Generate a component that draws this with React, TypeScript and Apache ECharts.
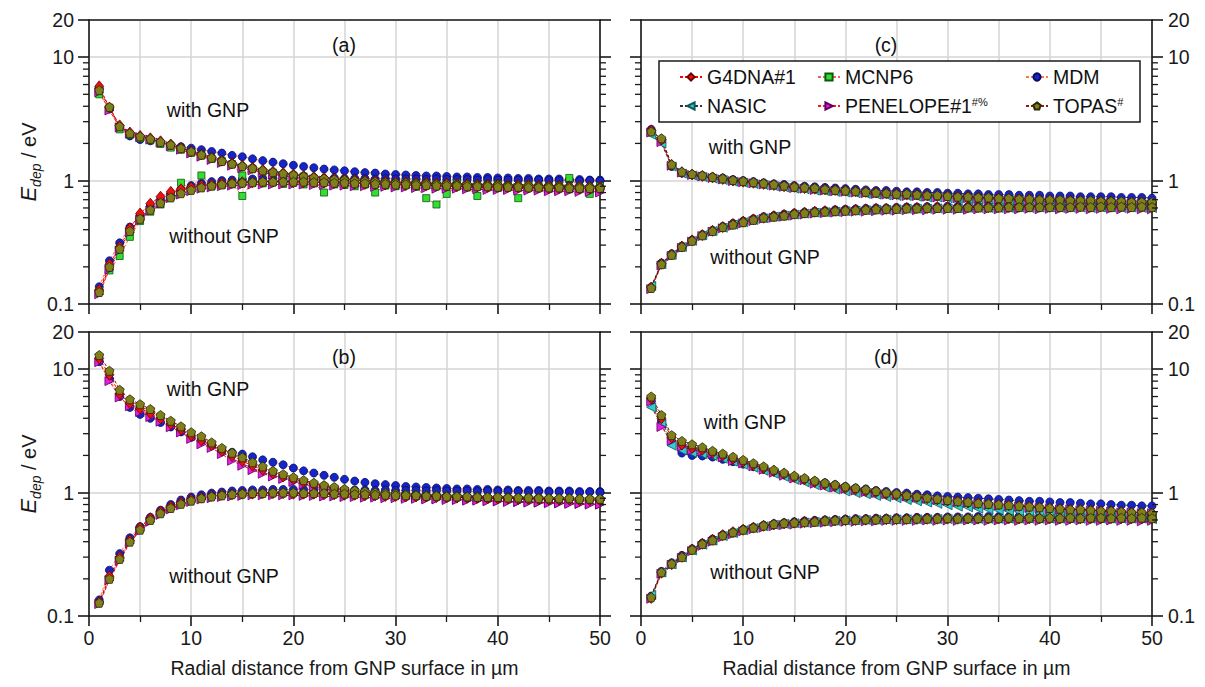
import React, { useEffect, useRef } from 'react';
import * as echarts from 'echarts';

// ---------------- data ----------------
const X_DIST = [1, 2, 3, 4, 5, 6, 7, 8, 9, 10, 11, 12, 13, 14, 15, 16, 17, 18, 19, 20, 21, 22, 23, 24, 25, 26, 27, 28, 29, 30, 31, 32, 33, 34, 35, 36, 37, 38, 39, 40, 41, 42, 43, 44, 45, 46, 47, 48, 49, 50];

// Panel (a)
const A_WITH_TOPAS = [5.4, 3.95, 2.75, 2.42, 2.28, 2.18, 2.06, 1.95, 1.83, 1.72, 1.62, 1.53, 1.44, 1.37, 1.31, 1.26, 1.21, 1.17, 1.14, 1.11, 1.08, 1.06, 1.04, 1.02, 1.01, 1.0, 0.99, 0.98, 0.97, 0.96, 0.96, 0.95, 0.95, 0.94, 0.94, 0.93, 0.93, 0.92, 0.92, 0.92, 0.91, 0.91, 0.91, 0.9, 0.9, 0.9, 0.89, 0.89, 0.89, 0.88];
const A_WITH_MDM = [5.6, 3.8, 2.7, 2.3, 2.15, 2.1, 2.03, 1.95, 1.88, 1.83, 1.78, 1.72, 1.67, 1.6, 1.56, 1.5, 1.45, 1.41, 1.37, 1.33, 1.3, 1.27, 1.24, 1.22, 1.2, 1.18, 1.16, 1.15, 1.13, 1.12, 1.11, 1.1, 1.09, 1.09, 1.08, 1.07, 1.07, 1.06, 1.06, 1.05, 1.05, 1.04, 1.04, 1.03, 1.03, 1.03, 1.02, 1.02, 1.01, 1.01];
const A_WITH_PENELOPE = [5.2, 3.7, 2.7, 2.4, 2.25, 2.15, 2.03, 1.9, 1.78, 1.66, 1.56, 1.47, 1.39, 1.32, 1.26, 1.21, 1.16, 1.12, 1.09, 1.06, 1.04, 1.02, 1.0, 0.98, 0.97, 0.96, 0.95, 0.94, 0.93, 0.92, 0.92, 0.91, 0.91, 0.9, 0.9, 0.89, 0.89, 0.88, 0.88, 0.87, 0.87, 0.87, 0.86, 0.86, 0.86, 0.85, 0.85, 0.85, 0.84, 0.84];
const A_WITH_G4DNA = [5.8, 3.9, 2.8, 2.45, 2.3, 2.2, 2.08, 1.96, 1.84, 1.73, 1.63, 1.54, 1.45, 1.38, 1.32, 1.27, 1.22, 1.18, 1.15, 1.12, 1.09, 1.07, 1.05, 1.03, 1.02, 1.01, 1.0, 0.99, 0.98, 0.97, 0.97, 0.96, 0.96, 0.95, 0.95, 0.94, 0.94, 0.93, 0.93, 0.93, 0.92, 0.92, 0.92, 0.91, 0.91, 0.91, 0.9, 0.9, 0.9, 0.89];
const A_WITH_MCNP6 = [5.0, 3.9, 2.6, 2.35, 2.2, 2.12, 1.98, 1.85, 1.78, 1.68, 1.6, 1.5, 1.44, 1.36, 1.1, 1.25, 1.18, 1.16, 1.1, 1.1, 1.08, 1.04, 1.0, 0.95, 1.0, 0.97, 0.97, 0.95, 0.95, 0.93, 0.96, 0.94, 0.92, 0.93, 0.92, 0.95, 0.91, 0.9, 0.92, 0.93, 0.9, 0.88, 0.92, 0.9, 0.89, 0.91, 1.05, 0.88, 0.86, 0.9];
const A_WITHOUT_TOPAS = [0.125, 0.2, 0.28, 0.39, 0.49, 0.58, 0.66, 0.73, 0.79, 0.84, 0.88, 0.91, 0.93, 0.95, 0.96, 0.97, 0.98, 0.98, 0.98, 0.98, 0.98, 0.97, 0.97, 0.96, 0.96, 0.95, 0.95, 0.94, 0.94, 0.93, 0.93, 0.92, 0.92, 0.91, 0.91, 0.91, 0.9, 0.9, 0.9, 0.89, 0.89, 0.89, 0.88, 0.88, 0.88, 0.88, 0.87, 0.87, 0.87, 0.87];
const A_WITHOUT_MDM = [0.138, 0.224, 0.313, 0.42, 0.52, 0.62, 0.7, 0.78, 0.85, 0.91, 0.95, 0.98, 1.0, 1.01, 1.02, 1.03, 1.04, 1.04, 1.04, 1.05, 1.05, 1.05, 1.04, 1.05, 1.04, 1.04, 1.04, 1.03, 1.04, 1.03, 1.03, 1.03, 1.02, 1.03, 1.02, 1.02, 1.02, 1.01, 1.02, 1.01, 1.01, 1.01, 1.0, 1.01, 1.0, 1.0, 1.0, 0.99, 1.0, 0.99];
const A_WITHOUT_PENELOPE = [0.12, 0.19, 0.27, 0.38, 0.48, 0.57, 0.65, 0.72, 0.77, 0.82, 0.86, 0.88, 0.9, 0.91, 0.92, 0.93, 0.93, 0.93, 0.93, 0.93, 0.93, 0.92, 0.92, 0.91, 0.91, 0.9, 0.9, 0.89, 0.89, 0.88, 0.88, 0.87, 0.87, 0.86, 0.86, 0.86, 0.85, 0.85, 0.84, 0.84, 0.84, 0.83, 0.83, 0.83, 0.82, 0.82, 0.82, 0.81, 0.81, 0.8];
const A_WITHOUT_G4DNA = [0.13, 0.21, 0.29, 0.41, 0.54, 0.65, 0.74, 0.81, 0.85, 0.88, 0.91, 0.93, 0.95, 0.96, 0.97, 0.97, 0.98, 0.98, 0.98, 0.97, 0.97, 0.97, 0.96, 0.96, 0.95, 0.95, 0.94, 0.94, 0.93, 0.93, 0.92, 0.92, 0.92, 0.91, 0.91, 0.9, 0.9, 0.9, 0.89, 0.89, 0.89, 0.88, 0.88, 0.88, 0.87, 0.87, 0.87, 0.86, 0.86, 0.86];
const A_WITHOUT_MCNP6 = [0.128, 0.187, 0.245, 0.35, 0.47, 0.56, 0.64, 0.74, 0.96, 0.86, 1.1, 0.9, 0.92, 0.94, 0.75, 0.96, 0.95, 0.97, 0.94, 0.96, 0.93, 0.95, 0.8, 0.93, 0.92, 0.9, 0.93, 0.8, 0.91, 0.9, 0.92, 0.89, 0.72, 0.64, 0.78, 0.9, 0.88, 0.75, 0.89, 0.87, 0.9, 0.72, 0.88, 0.87, 0.86, 0.88, 0.85, 0.87, 0.78, 0.86];

// Panel (b)
const B_WITH_TOPAS = [13.0, 9.7, 6.8, 5.7, 5.2, 4.75, 4.25, 3.82, 3.44, 3.08, 2.86, 2.55, 2.3, 2.1, 1.93, 1.76, 1.63, 1.5, 1.41, 1.33, 1.26, 1.2, 1.15, 1.11, 1.07, 1.04, 1.02, 1.0, 0.99, 0.98, 0.97, 0.96, 0.95, 0.95, 0.94, 0.94, 0.93, 0.93, 0.92, 0.92, 0.92, 0.91, 0.91, 0.91, 0.9, 0.9, 0.9, 0.89, 0.89, 0.89];
const B_WITH_MDM = [11.5, 8.3, 6.0, 4.9, 4.3, 4.0, 3.7, 3.4, 3.1, 2.8, 2.6, 2.4, 2.2, 2.12, 2.05, 1.95, 1.84, 1.76, 1.68, 1.58, 1.5, 1.44, 1.38, 1.33, 1.28, 1.24, 1.21, 1.18, 1.16, 1.14, 1.12, 1.11, 1.1, 1.09, 1.08, 1.07, 1.07, 1.06, 1.06, 1.05, 1.05, 1.04, 1.04, 1.04, 1.03, 1.03, 1.03, 1.02, 1.02, 1.02];
const B_WITH_PENELOPE = [11.4, 8.0, 5.9, 5.0, 4.5, 4.1, 3.75, 3.38, 3.07, 2.72, 2.46, 2.3, 2.05, 1.81, 1.65, 1.52, 1.42, 1.35, 1.29, 1.22, 1.16, 1.11, 1.07, 1.03, 1.0, 0.98, 0.96, 0.95, 0.94, 0.93, 0.92, 0.91, 0.9, 0.89, 0.89, 0.88, 0.87, 0.87, 0.86, 0.85, 0.85, 0.84, 0.84, 0.83, 0.83, 0.82, 0.82, 0.81, 0.81, 0.8];
const B_WITH_G4DNA = [12.2, 9.0, 6.3, 5.3, 4.8, 4.4, 4.0, 3.6, 3.25, 2.9, 2.65, 2.42, 2.18, 1.98, 1.8, 1.65, 1.53, 1.43, 1.35, 1.28, 1.22, 1.17, 1.12, 1.08, 1.05, 1.02, 1.0, 0.98, 0.97, 0.96, 0.95, 0.94, 0.93, 0.93, 0.92, 0.92, 0.91, 0.91, 0.9, 0.9, 0.9, 0.89, 0.89, 0.89, 0.88, 0.88, 0.88, 0.87, 0.87, 0.87];
const B_WITHOUT_TOPAS = [0.128, 0.2, 0.29, 0.4, 0.5, 0.6, 0.68, 0.75, 0.81, 0.86, 0.9, 0.93, 0.95, 0.97, 0.98, 0.99, 0.99, 1.0, 1.0, 1.0, 0.99, 0.99, 0.99, 0.98, 0.98, 0.97, 0.97, 0.96, 0.96, 0.95, 0.95, 0.95, 0.94, 0.94, 0.93, 0.93, 0.93, 0.92, 0.92, 0.92, 0.91, 0.91, 0.91, 0.9, 0.9, 0.9, 0.9, 0.89, 0.89, 0.89];
const B_WITHOUT_MDM = [0.135, 0.235, 0.32, 0.43, 0.53, 0.63, 0.72, 0.8, 0.87, 0.92, 0.96, 0.99, 1.01, 1.03, 1.04, 1.05, 1.05, 1.06, 1.06, 1.06, 1.06, 1.06, 1.05, 1.06, 1.05, 1.05, 1.05, 1.04, 1.05, 1.04, 1.04, 1.04, 1.03, 1.04, 1.03, 1.03, 1.03, 1.02, 1.03, 1.02, 1.02, 1.02, 1.01, 1.02, 1.01, 1.01, 1.01, 1.0, 1.01, 1.0];
const B_WITHOUT_PENELOPE = [0.125, 0.195, 0.28, 0.39, 0.49, 0.58, 0.66, 0.73, 0.79, 0.84, 0.88, 0.9, 0.92, 0.93, 0.94, 0.95, 0.95, 0.95, 0.95, 0.95, 0.94, 0.94, 0.93, 0.93, 0.92, 0.92, 0.91, 0.91, 0.9, 0.9, 0.89, 0.89, 0.88, 0.88, 0.87, 0.87, 0.86, 0.86, 0.85, 0.85, 0.84, 0.84, 0.83, 0.83, 0.82, 0.82, 0.81, 0.81, 0.8, 0.8];
const B_WITHOUT_G4DNA = [0.13, 0.21, 0.3, 0.41, 0.52, 0.62, 0.7, 0.77, 0.83, 0.88, 0.91, 0.94, 0.96, 0.97, 0.98, 0.98, 0.99, 0.99, 0.99, 0.98, 0.98, 0.98, 0.97, 0.97, 0.96, 0.96, 0.95, 0.95, 0.94, 0.94, 0.93, 0.93, 0.93, 0.92, 0.92, 0.91, 0.91, 0.91, 0.9, 0.9, 0.9, 0.89, 0.89, 0.89, 0.88, 0.88, 0.88, 0.87, 0.87, 0.87];

// Panel (c)
const C_WITH_TOPAS = [2.5, 2.2, 1.35, 1.18, 1.13, 1.1, 1.07, 1.04, 1.01, 0.99, 0.97, 0.95, 0.93, 0.91, 0.89, 0.88, 0.87, 0.85, 0.84, 0.83, 0.82, 0.81, 0.8, 0.79, 0.78, 0.78, 0.77, 0.76, 0.76, 0.75, 0.74, 0.74, 0.73, 0.73, 0.72, 0.72, 0.71, 0.71, 0.7, 0.7, 0.7, 0.69, 0.69, 0.69, 0.68, 0.68, 0.68, 0.67, 0.67, 0.67];
const C_WITH_MDM = [2.6, 2.1, 1.3, 1.15, 1.12, 1.1, 1.07, 1.05, 1.02, 1.0, 0.98, 0.96, 0.94, 0.93, 0.91, 0.9, 0.89, 0.88, 0.87, 0.86, 0.85, 0.84, 0.83, 0.83, 0.82, 0.81, 0.81, 0.8, 0.8, 0.79, 0.79, 0.78, 0.78, 0.77, 0.77, 0.77, 0.76, 0.76, 0.76, 0.75, 0.75, 0.75, 0.74, 0.74, 0.74, 0.74, 0.73, 0.73, 0.73, 0.72];
const C_WITH_PENELOPE = [2.45, 2.05, 1.32, 1.16, 1.11, 1.08, 1.05, 1.02, 0.99, 0.97, 0.95, 0.93, 0.91, 0.89, 0.87, 0.86, 0.84, 0.83, 0.82, 0.81, 0.8, 0.79, 0.78, 0.77, 0.76, 0.75, 0.75, 0.74, 0.73, 0.73, 0.72, 0.72, 0.71, 0.71, 0.7, 0.7, 0.69, 0.69, 0.68, 0.68, 0.68, 0.67, 0.67, 0.66, 0.66, 0.66, 0.65, 0.65, 0.65, 0.64];
const C_WITH_G4DNA = [2.55, 2.15, 1.34, 1.17, 1.12, 1.09, 1.06, 1.03, 1.0, 0.98, 0.96, 0.94, 0.92, 0.9, 0.89, 0.87, 0.86, 0.85, 0.84, 0.83, 0.82, 0.81, 0.8, 0.79, 0.78, 0.77, 0.77, 0.76, 0.75, 0.75, 0.74, 0.74, 0.73, 0.72, 0.72, 0.71, 0.71, 0.71, 0.7, 0.7, 0.69, 0.69, 0.69, 0.68, 0.68, 0.68, 0.67, 0.67, 0.67, 0.66];
const C_WITH_NASIC = [2.35, 2.0, 1.3, 1.14, 1.1, 1.07, 1.04, 1.01, 0.98, 0.96, 0.94, 0.92, 0.9, 0.88, 0.86, 0.85, 0.83, 0.82, 0.81, 0.8, 0.79, 0.78, 0.77, 0.76, 0.75, 0.75, 0.74, 0.73, 0.73, 0.72, 0.71, 0.71, 0.7, 0.7, 0.69, 0.69, 0.68, 0.68, 0.67, 0.67, 0.67, 0.66, 0.66, 0.65, 0.65, 0.65, 0.64, 0.64, 0.64, 0.63];
const C_WITHOUT_TOPAS = [0.135, 0.21, 0.25, 0.29, 0.325, 0.36, 0.39, 0.42, 0.44, 0.46, 0.48, 0.5, 0.51, 0.52, 0.535, 0.545, 0.555, 0.56, 0.565, 0.57, 0.575, 0.58, 0.585, 0.59, 0.59, 0.595, 0.595, 0.6, 0.6, 0.6, 0.6, 0.605, 0.605, 0.605, 0.605, 0.61, 0.61, 0.61, 0.61, 0.61, 0.61, 0.61, 0.615, 0.61, 0.615, 0.61, 0.615, 0.61, 0.615, 0.61];
const C_WITHOUT_MDM = [0.137, 0.215, 0.255, 0.295, 0.33, 0.365, 0.395, 0.425, 0.45, 0.47, 0.49, 0.51, 0.52, 0.535, 0.545, 0.555, 0.565, 0.57, 0.58, 0.585, 0.59, 0.595, 0.6, 0.6, 0.605, 0.61, 0.61, 0.615, 0.615, 0.62, 0.62, 0.62, 0.625, 0.625, 0.625, 0.63, 0.63, 0.63, 0.63, 0.63, 0.635, 0.63, 0.635, 0.635, 0.63, 0.635, 0.635, 0.635, 0.64, 0.635];
const C_WITHOUT_PENELOPE = [0.132, 0.205, 0.245, 0.285, 0.32, 0.355, 0.385, 0.41, 0.43, 0.45, 0.47, 0.49, 0.5, 0.51, 0.52, 0.53, 0.54, 0.545, 0.55, 0.555, 0.56, 0.56, 0.565, 0.57, 0.57, 0.575, 0.575, 0.575, 0.58, 0.58, 0.58, 0.58, 0.585, 0.585, 0.585, 0.585, 0.585, 0.59, 0.585, 0.59, 0.585, 0.59, 0.59, 0.585, 0.59, 0.59, 0.585, 0.59, 0.585, 0.585];
const C_WITHOUT_G4DNA = [0.136, 0.212, 0.252, 0.292, 0.328, 0.362, 0.392, 0.42, 0.445, 0.465, 0.485, 0.5, 0.515, 0.525, 0.54, 0.55, 0.56, 0.565, 0.57, 0.575, 0.58, 0.585, 0.59, 0.59, 0.595, 0.6, 0.6, 0.6, 0.605, 0.605, 0.605, 0.61, 0.61, 0.61, 0.61, 0.61, 0.615, 0.615, 0.615, 0.615, 0.615, 0.615, 0.62, 0.615, 0.62, 0.615, 0.62, 0.62, 0.615, 0.62];
const C_WITHOUT_NASIC = [0.14, 0.21, 0.25, 0.29, 0.325, 0.36, 0.39, 0.415, 0.44, 0.46, 0.48, 0.495, 0.51, 0.52, 0.53, 0.54, 0.55, 0.555, 0.56, 0.565, 0.57, 0.575, 0.58, 0.58, 0.585, 0.59, 0.59, 0.59, 0.595, 0.595, 0.595, 0.6, 0.6, 0.6, 0.6, 0.6, 0.605, 0.6, 0.605, 0.605, 0.6, 0.605, 0.605, 0.6, 0.605, 0.605, 0.6, 0.605, 0.6, 0.6];

// Panel (d)
const D_WITH_TOPAS = [6.0, 4.25, 2.92, 2.62, 2.46, 2.33, 2.18, 2.07, 1.95, 1.84, 1.73, 1.63, 1.53, 1.45, 1.37, 1.31, 1.25, 1.2, 1.16, 1.12, 1.09, 1.06, 1.03, 1.0, 0.98, 0.95, 0.93, 0.91, 0.89, 0.87, 0.85, 0.84, 0.82, 0.81, 0.8, 0.79, 0.78, 0.77, 0.76, 0.75, 0.74, 0.73, 0.73, 0.72, 0.71, 0.71, 0.7, 0.69, 0.69, 0.68];
const D_WITH_MDM = [5.6, 3.8, 2.6, 2.09, 2.0, 1.98, 1.94, 1.86, 1.78, 1.7, 1.62, 1.54, 1.47, 1.4, 1.34, 1.29, 1.24, 1.2, 1.16, 1.12, 1.09, 1.07, 1.04, 1.02, 1.0, 0.99, 0.97, 0.96, 0.94, 0.93, 0.92, 0.91, 0.9, 0.89, 0.88, 0.87, 0.86, 0.85, 0.85, 0.84, 0.83, 0.83, 0.82, 0.81, 0.81, 0.8, 0.79, 0.79, 0.78, 0.78];
const D_WITH_PENELOPE = [5.45, 3.4, 2.63, 2.35, 2.2, 2.15, 2.05, 1.93, 1.8, 1.72, 1.63, 1.53, 1.45, 1.37, 1.3, 1.26, 1.18, 1.14, 1.1, 1.07, 1.04, 1.01, 0.99, 0.97, 0.95, 0.93, 0.91, 0.89, 0.87, 0.86, 0.84, 0.83, 0.81, 0.8, 0.79, 0.78, 0.77, 0.76, 0.75, 0.74, 0.73, 0.73, 0.72, 0.71, 0.71, 0.7, 0.69, 0.69, 0.68, 0.68];
const D_WITH_G4DNA = [5.8, 4.0, 2.8, 2.45, 2.3, 2.22, 2.1, 2.0, 1.88, 1.78, 1.68, 1.58, 1.5, 1.42, 1.34, 1.28, 1.22, 1.17, 1.13, 1.09, 1.06, 1.03, 1.01, 0.98, 0.96, 0.94, 0.92, 0.9, 0.88, 0.86, 0.85, 0.83, 0.82, 0.81, 0.8, 0.79, 0.78, 0.77, 0.76, 0.75, 0.74, 0.73, 0.73, 0.72, 0.71, 0.71, 0.7, 0.69, 0.69, 0.68];
const D_WITH_NASIC = [4.9, 3.6, 2.4, 2.2, 2.1, 2.05, 1.98, 1.88, 1.78, 1.68, 1.59, 1.5, 1.42, 1.34, 1.27, 1.21, 1.15, 1.1, 1.06, 1.02, 0.99, 0.97, 0.94, 0.92, 0.9, 0.87, 0.85, 0.83, 0.81, 0.79, 0.77, 0.76, 0.74, 0.73, 0.72, 0.71, 0.7, 0.69, 0.68, 0.67, 0.66, 0.66, 0.65, 0.64, 0.64, 0.63, 0.63, 0.62, 0.62, 0.61];
const D_WITHOUT_TOPAS = [0.142, 0.226, 0.265, 0.3, 0.344, 0.383, 0.41, 0.45, 0.476, 0.5, 0.52, 0.54, 0.556, 0.565, 0.57, 0.575, 0.58, 0.59, 0.595, 0.6, 0.6, 0.605, 0.605, 0.61, 0.61, 0.61, 0.615, 0.615, 0.615, 0.62, 0.615, 0.62, 0.62, 0.62, 0.62, 0.625, 0.62, 0.625, 0.62, 0.625, 0.62, 0.625, 0.62, 0.625, 0.625, 0.62, 0.625, 0.62, 0.625, 0.62];
const D_WITHOUT_MDM = [0.145, 0.23, 0.27, 0.31, 0.35, 0.39, 0.42, 0.455, 0.48, 0.505, 0.525, 0.545, 0.56, 0.57, 0.58, 0.59, 0.595, 0.6, 0.605, 0.61, 0.615, 0.615, 0.62, 0.62, 0.625, 0.625, 0.63, 0.63, 0.63, 0.635, 0.635, 0.635, 0.64, 0.64, 0.64, 0.64, 0.645, 0.64, 0.645, 0.645, 0.645, 0.645, 0.65, 0.645, 0.65, 0.65, 0.65, 0.65, 0.66, 0.65];
const D_WITHOUT_PENELOPE = [0.138, 0.22, 0.26, 0.295, 0.335, 0.37, 0.4, 0.435, 0.46, 0.485, 0.505, 0.52, 0.535, 0.545, 0.55, 0.56, 0.565, 0.57, 0.575, 0.58, 0.58, 0.585, 0.585, 0.59, 0.59, 0.59, 0.59, 0.595, 0.59, 0.595, 0.59, 0.595, 0.595, 0.59, 0.595, 0.595, 0.59, 0.595, 0.59, 0.595, 0.59, 0.59, 0.595, 0.59, 0.59, 0.595, 0.59, 0.59, 0.585, 0.59];
const D_WITHOUT_G4DNA = [0.14, 0.224, 0.263, 0.302, 0.346, 0.385, 0.415, 0.452, 0.478, 0.5, 0.52, 0.538, 0.552, 0.562, 0.57, 0.578, 0.584, 0.59, 0.594, 0.598, 0.6, 0.603, 0.606, 0.608, 0.61, 0.611, 0.612, 0.613, 0.614, 0.615, 0.614, 0.616, 0.615, 0.617, 0.616, 0.618, 0.617, 0.618, 0.618, 0.619, 0.618, 0.62, 0.619, 0.62, 0.62, 0.621, 0.62, 0.621, 0.62, 0.621];
const D_WITHOUT_NASIC = [0.148, 0.225, 0.262, 0.298, 0.34, 0.378, 0.408, 0.445, 0.47, 0.495, 0.515, 0.533, 0.548, 0.558, 0.565, 0.572, 0.578, 0.585, 0.59, 0.594, 0.597, 0.6, 0.602, 0.604, 0.606, 0.607, 0.608, 0.609, 0.61, 0.61, 0.611, 0.611, 0.612, 0.612, 0.612, 0.613, 0.613, 0.613, 0.613, 0.614, 0.614, 0.614, 0.614, 0.614, 0.615, 0.615, 0.615, 0.615, 0.615, 0.615];

const Y_MINOR_TICKS = [0.2, 0.3, 0.4, 0.5, 0.6, 0.7, 0.8, 0.9, 2, 3, 4, 5, 6, 7, 8, 9];
const X_TITLE = 'Radial distance from GNP surface in µm';

// ---------------- styles ----------------
const FONT = '"Liberation Sans", Arial, Helvetica, sans-serif';
const AX = '#1a1a1a';
const GRIDC = '#d4d4d4';
const PENTAGON = 'path://M0,-10L9.51,-3.09L5.88,8.09L-5.88,8.09L-9.51,-3.09Z';
const FS = 19.5;

type Code = 'G4DNA' | 'MCNP6' | 'MDM' | 'NASIC' | 'PENELOPE' | 'TOPAS';
const NAMES: Record<Code, string> = {
  G4DNA: 'G4DNA#1', MCNP6: 'MCNP6', MDM: 'MDM', NASIC: 'NASIC', PENELOPE: 'PENELOPE#1#%', TOPAS: 'TOPAS#',
};
const MARK: Record<Code, any> = {
  G4DNA: { symbol: 'diamond', size: [9, 11], rotate: 0, fill: '#ee1111', border: '#6a0000' },
  MCNP6: { symbol: 'rect', size: 7, rotate: 0, fill: '#33dd33', border: '#0a5a0a' },
  MDM: { symbol: 'circle', size: 8, rotate: 0, fill: '#1426c8', border: '#0a0a60' },
  NASIC: { symbol: 'triangle', size: 9, rotate: 90, fill: '#33cccc', border: '#0a5a5a' },
  PENELOPE: { symbol: 'triangle', size: 9, rotate: -90, fill: '#e41fe4', border: '#600060' },
  TOPAS: { symbol: PENTAGON, size: 9, rotate: 0, fill: '#7f7f1c', border: '#2a2a00' },
};
const LINE_RED: Record<Code, string> = {
  G4DNA: '#ff0000', MCNP6: '#ff5a5a', MDM: '#ff7a3d', NASIC: '#ff2a2a', PENELOPE: '#ff1a1a', TOPAS: '#a01010',
};
const LINE_DARK: Record<Code, string> = {
  G4DNA: '#ff0000', MCNP6: '#333333', MDM: '#333333', NASIC: '#333333', PENELOPE: '#ff1a1a', TOPAS: '#222222',
};

const PANELS: { series: [Code, number[], number[]][]; dark: boolean }[] = [
  {
    dark: false,
    series: [
      ['MDM', A_WITH_MDM, A_WITHOUT_MDM],
      ['MCNP6', A_WITH_MCNP6, A_WITHOUT_MCNP6],
      ['PENELOPE', A_WITH_PENELOPE, A_WITHOUT_PENELOPE],
      ['G4DNA', A_WITH_G4DNA, A_WITHOUT_G4DNA],
      ['TOPAS', A_WITH_TOPAS, A_WITHOUT_TOPAS],
    ],
  },
  {
    dark: false,
    series: [
      ['MDM', B_WITH_MDM, B_WITHOUT_MDM],
      ['PENELOPE', B_WITH_PENELOPE, B_WITHOUT_PENELOPE],
      ['G4DNA', B_WITH_G4DNA, B_WITHOUT_G4DNA],
      ['TOPAS', B_WITH_TOPAS, B_WITHOUT_TOPAS],
    ],
  },
  {
    dark: true,
    series: [
      ['MDM', C_WITH_MDM, C_WITHOUT_MDM],
      ['NASIC', C_WITH_NASIC, C_WITHOUT_NASIC],
      ['PENELOPE', C_WITH_PENELOPE, C_WITHOUT_PENELOPE],
      ['G4DNA', C_WITH_G4DNA, C_WITHOUT_G4DNA],
      ['TOPAS', C_WITH_TOPAS, C_WITHOUT_TOPAS],
    ],
  },
  {
    dark: true,
    series: [
      ['MDM', D_WITH_MDM, D_WITHOUT_MDM],
      ['NASIC', D_WITH_NASIC, D_WITHOUT_NASIC],
      ['PENELOPE', D_WITH_PENELOPE, D_WITHOUT_PENELOPE],
      ['G4DNA', D_WITH_G4DNA, D_WITHOUT_G4DNA],
      ['TOPAS', D_WITH_TOPAS, D_WITHOUT_TOPAS],
    ],
  },
];

const GRIDS = [
  { left: 89, top: 20 },
  { left: 89, top: 332 },
  { left: 641, top: 20 },
  { left: 641, top: 332 },
];
const GW = 511;
const GH = 284;

const LEGEND_POS: { code: Code; left: number; top: number }[] = [
  { code: 'G4DNA', left: 679, top: 67 },
  { code: 'MCNP6', left: 817, top: 67 },
  { code: 'MDM', left: 1025, top: 67 },
  { code: 'NASIC', left: 679, top: 96 },
  { code: 'PENELOPE', left: 817, top: 96 },
  { code: 'TOPAS', left: 1025, top: 96 },
];

const TEXTS = [
  { t: '(a)', x: 344, y: 45 },
  { t: 'with GNP', x: 208, y: 110 },
  { t: 'without GNP', x: 224, y: 236 },
  { t: '(b)', x: 344, y: 357 },
  { t: 'with GNP', x: 208, y: 389 },
  { t: 'without GNP', x: 224, y: 576 },
  { t: '(c)', x: 886, y: 45 },
  { t: 'with GNP', x: 750, y: 147 },
  { t: 'without GNP', x: 765, y: 257 },
  { t: '(d)', x: 886, y: 357 },
  { t: 'with GNP', x: 745, y: 422 },
  { t: 'without GNP', x: 765, y: 572 },
];

const fmtY = (v: number) => String(v < 1 ? Math.round(v * 10) / 10 : Math.round(v));

function buildOption() {
  const grid = GRIDS.map((g) => ({ left: g.left, top: g.top, width: GW, height: GH, show: false }));
  const xAxis: any[] = [];
  const yAxis: any[] = [];
  GRIDS.forEach((_, gi) => {
    const bottomRow = gi === 1 || gi === 3;
    const rightCol = gi >= 2;
    const lineSt = { color: AX, width: 1.6 };
    xAxis.push({
      type: 'value', gridIndex: gi, position: 'bottom', min: 0, max: 50, interval: 10,
      axisLine: { show: true, onZero: false, lineStyle: lineSt },
      axisTick: { show: true, inside: false, length: 10, lineStyle: lineSt },
      minorTick: { show: true, splitNumber: 2, length: 6, lineStyle: { color: AX, width: 1.3 } },
      axisLabel: { show: bottomRow, fontSize: FS, fontFamily: FONT, color: AX, margin: 12 },
      splitLine: { show: true, lineStyle: { color: GRIDC, width: 1.5 } },
      minorSplitLine: { show: true, lineStyle: { color: GRIDC, width: 1.5 } },
      name: bottomRow ? X_TITLE : '', nameLocation: 'middle', nameGap: 42,
      nameTextStyle: { fontSize: FS, fontFamily: FONT, color: AX },
    });
    xAxis.push({
      type: 'value', gridIndex: gi, position: 'top', min: 0, max: 50, interval: 10,
      axisLine: { show: true, onZero: false, lineStyle: lineSt },
      axisTick: { show: false }, axisLabel: { show: false }, splitLine: { show: false },
    });
    const yBase = {
      type: 'log', logBase: 10, gridIndex: gi, min: 0.1, max: 20,
      axisLine: { show: true, onZero: false, lineStyle: lineSt },
      axisTick: { show: true, inside: false, length: 11, lineStyle: lineSt },
    };
    yAxis.push({
      ...yBase, position: 'left',
      axisLabel: { show: !rightCol, fontSize: FS, fontFamily: FONT, color: AX, margin: 15, formatter: fmtY },
      splitLine: { show: true, lineStyle: { color: GRIDC, width: 1.5 } },
      name: rightCol ? '' : '{i|E}{s|dep}{n| / eV}', nameLocation: 'middle', nameGap: 46, nameRotate: 90,
      nameTextStyle: {
        fontFamily: FONT, fontSize: 20, color: AX,
        rich: {
          i: { fontStyle: 'italic', fontSize: 22, fontFamily: FONT, color: AX },
          s: { fontStyle: 'italic', fontSize: 14, fontFamily: FONT, color: AX, verticalAlign: 'bottom', lineHeight: 28 },
          n: { fontSize: 20, fontFamily: FONT, color: AX },
        },
      },
    });
    yAxis.push({
      ...yBase, position: 'right',
      axisLabel: { show: rightCol, fontSize: FS, fontFamily: FONT, color: AX, margin: 16, formatter: fmtY },
      splitLine: { show: false },
    });
  });

  const series: any[] = [];
  PANELS.forEach((p, gi) => {
    p.series.forEach(([code, withArr, withoutArr]) => {
      const m = MARK[code];
      [withArr, withoutArr].forEach((arr) => {
        series.push({
          type: 'line', name: NAMES[code], xAxisIndex: 2 * gi, yAxisIndex: 2 * gi,
          data: X_DIST.map((x, i) => [x, arr[i]]),
          symbol: m.symbol, symbolSize: m.size, symbolRotate: m.rotate, showSymbol: true,
          itemStyle: { color: m.fill, borderColor: m.border, borderWidth: 0.8 },
          lineStyle: { color: (p.dark ? LINE_DARK : LINE_RED)[code], width: 1, type: [3, 2] },
          emphasis: { disabled: true }, silent: true, clip: false,
        });
      });
    });
  });

  const legend = LEGEND_POS.map((l) => ({
    data: [NAMES[l.code]], left: l.left, top: l.top, orient: 'horizontal',
    itemWidth: 22, itemHeight: 9, itemGap: 0, padding: 0, selectedMode: false, z: 6,
    formatter: (name: string) =>
      name === 'PENELOPE#1#%' ? 'PENELOPE#1{sup|#%}' : name === 'TOPAS#' ? 'TOPAS{sup|#}' : name,
    textStyle: {
      fontSize: FS, fontFamily: FONT, color: '#111',
      rich: { sup: { fontSize: 11, fontFamily: FONT, color: '#111', verticalAlign: 'top', lineHeight: 12 } },
    },
  }));

  return { animation: false, backgroundColor: '#ffffff', grid, xAxis, yAxis, series, legend };
}

export default function App() {
  const ref = useRef<HTMLDivElement>(null);
  useEffect(() => {
    document.body.style.margin = '0';
    if (!ref.current) return;
    const chart = echarts.init(ref.current, null, { renderer: 'svg' });
    chart.setOption(buildOption() as any);

    const graphic: any[] = [
      {
        type: 'rect', z: 3, silent: true,
        shape: { x: 659, y: 61, width: 481, height: 61 },
        style: { fill: '#ffffff', stroke: AX, lineWidth: 1.5 },
      },
      ...TEXTS.map((t) => ({
        type: 'text', x: t.x, y: t.y, z: 5, silent: true,
        style: {
          text: t.t, fontSize: FS, fontFamily: FONT, fill: '#111',
          textAlign: 'center', textVerticalAlign: 'middle', align: 'center', verticalAlign: 'middle',
        },
      })),
    ];
    GRIDS.forEach((_, gi) => {
      const xl = chart.convertToPixel({ xAxisIndex: 2 * gi }, 0) as number;
      const xr = chart.convertToPixel({ xAxisIndex: 2 * gi }, 50) as number;
      Y_MINOR_TICKS.forEach((v) => {
        const py = chart.convertToPixel({ yAxisIndex: 2 * gi }, v) as number;
        graphic.push({
          type: 'line', silent: true, z: 4,
          shape: { x1: xl - 6, y1: py, x2: xl, y2: py },
          style: { stroke: AX, lineWidth: 1.3 },
        });
        graphic.push({
          type: 'line', silent: true, z: 4,
          shape: { x1: xr, y1: py, x2: xr + 6, y2: py },
          style: { stroke: AX, lineWidth: 1.3 },
        });
      });
    });
    chart.setOption({ graphic });
    return () => chart.dispose();
  }, []);
  return <div ref={ref} style={{ width: 1205, height: 687, background: '#fff' }} />;
}
